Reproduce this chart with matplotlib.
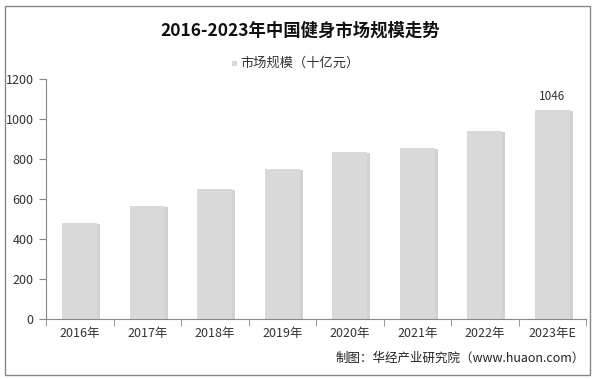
import numpy as np
import matplotlib.pyplot as plt
import matplotlib.patheffects as pe
from matplotlib.patches import Rectangle

plt.rcParams['font.family'] = ['Noto Sans CJK SC', 'DejaVu Sans']

# data
years = ['2016年', '2017年', '2018年', '2019年', '2020年', '2021年', '2022年', '2023年E']
market_size = [480, 565, 650, 750, 835, 855, 940, 1046]
series_name = '市场规模（十亿元）'

fig = plt.figure(figsize=(6, 3.79), dpi=100)
ax = fig.add_axes([0.077, 0.158, 0.9, 0.634])

x = np.arange(len(years))
shadow = [pe.SimplePatchShadow(offset=(2, -1), shadow_rgbFace='#999999', alpha=0.45), pe.Normal()]
bars = ax.bar(x, market_size, width=0.52, color='#d9d9d9', label=series_name, zorder=2)
for b in bars:
    b.set_path_effects(shadow)

# only last bar gets a value label
ax.text(x[-1], market_size[-1] + 35, str(market_size[-1]), ha='center', va='bottom',
        fontsize=8.5, color='#333333')

ax.set_xlim(-0.5, len(years) - 0.5)
ax.set_ylim(0, 1200)
ax.set_yticks(range(0, 1201, 200))
ax.set_xticks(x)
ax.set_xticklabels(years, fontsize=9, color='#333333')
ax.set_xticks(np.arange(-0.5, len(years), 1), minor=True)
ax.tick_params(axis='x', which='major', length=0, pad=6)
ax.tick_params(axis='x', which='minor', length=5, color='#888888', direction='out')
ax.tick_params(axis='y', length=5, color='#888888', labelsize=9, labelcolor='#333333', pad=4)

for s in ['top', 'right']:
    ax.spines[s].set_visible(False)
for s in ['left', 'bottom']:
    ax.spines[s].set_color('#888888')

fig.text(0.5, 0.92, '2016-2023年中国健身市场规模走势', ha='center', va='center',
         fontsize=12.5, fontweight='bold', color='#111111')

# legend
fig.patches.append(Rectangle((0.386, 0.825), 0.009, 0.015, transform=fig.transFigure,
                             facecolor='#d9d9d9', edgecolor='none'))
fig.text(0.4, 0.833, series_name, ha='left', va='center', fontsize=9.5, color='#333333')

fig.text(0.975, 0.055, '制图：华经产业研究院（www.huaon.com）', ha='right', va='center',
         fontsize=9, color='#222222')

# outer frame
fig.patches.append(Rectangle((0.008, 0.01), 0.975, 0.975, transform=fig.transFigure,
                             facecolor='none', edgecolor='#888888', linewidth=1))

fig.savefig('out.png', dpi=100)
